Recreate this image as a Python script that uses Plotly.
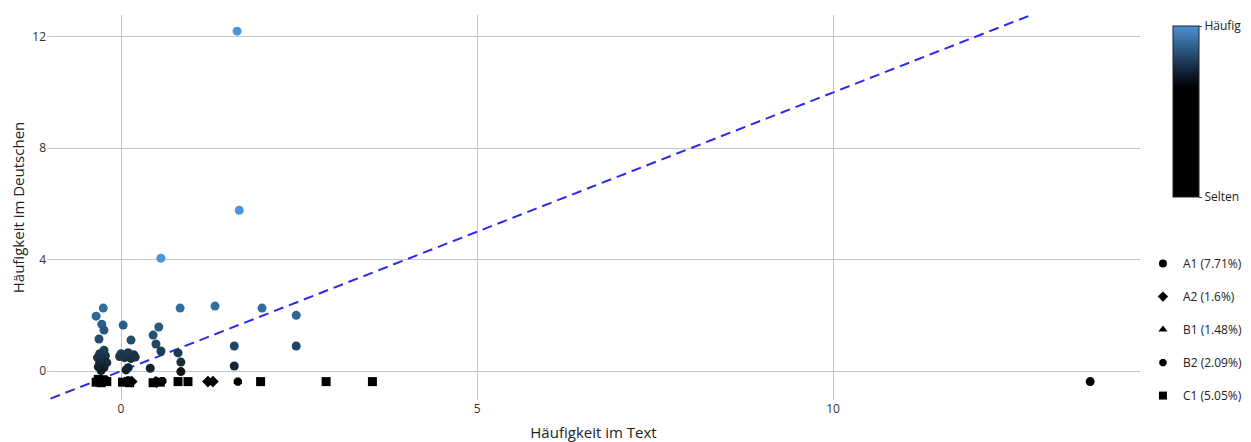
import plotly.graph_objects as go

# Coloured points (level A1), x = Häufigkeit im Text, y = Häufigkeit im Deutschen
a1_x = [1.63, 1.66, 0.56, -0.25, -0.35, -0.27, -0.24, -0.31, -0.24,
        -0.30, -0.22, -0.33, -0.26, -0.30, -0.20, -0.32, -0.24, -0.28,
        0.03, 0.14, 0.00, 0.10, 0.18, 0.05, 0.14, 0.20, -0.02, 0.07, 0.10,
        0.45, 0.53, 0.49, 0.56, 0.41, 0.80, 0.84, 0.84,
        0.83, 1.32, 1.98, 2.46, 1.59, 1.59, 2.46, 13.61]
a1_y = [12.20, 5.77, 4.05, 2.26, 1.97, 1.68, 1.47, 1.15, 0.75,
        0.62, 0.55, 0.48, 0.43, 0.30, 0.30, 0.15, 0.12, 0.02,
        1.65, 1.11, 0.62, 0.66, 0.58, 0.48, 0.45, 0.50, 0.52, 0.04, 0.12,
        1.29, 1.58, 0.97, 0.72, 0.10, 0.65, 0.32, -0.02,
        2.26, 2.33, 2.26, 2.00, 0.90, 0.18, 0.90, -0.38]

a2_x = [1.22, 1.29, 0.15, -0.25, 0.50]
a2_y = [-0.38, -0.38, -0.38, -0.36, -0.40]

b1_x = [-0.30, 0.05, 0.48]
b1_y = [-0.33, -0.36, -0.34]

b2_x = [1.64, -0.22, 0.10, 0.58]
b2_y = [-0.38, -0.30, -0.34, -0.36]

c1_x = [-0.35, -0.28, -0.20, -0.32, 0.02, 0.12, 0.45, 0.55, 0.80, 0.94, 1.96, 2.88, 3.53]
c1_y = [-0.40, -0.42, -0.38, -0.30, -0.40, -0.42, -0.42, -0.40, -0.38, -0.38, -0.38, -0.38, -0.38]

levels = ["A1 (7.71%)", "A2 (1.6%)", "B1 (1.48%)", "B2 (2.09%)", "C1 (5.05%)"]
symbols = ["circle", "diamond", "triangle-up", "octagon", "square"]

diag = [-1.2, 14.5]

x_ticks = [0, 5, 10]
y_ticks = [0, 4, 8, 12]
cbar_labels = ["Selten", "Häufig"]

point_scale = [[0, "#000000"], [0.06, "#000000"], [0.1, "#10202c"], [0.2, "#1a3447"],
               [0.35, "#234e6e"], [0.6, "#326e9c"], [1, "#4a96d8"]]
bar_scale = [[0, "#000000"], [0.64, "#000000"], [0.8, "#1d3d5c"], [1, "#4a92d4"]]

fig = go.Figure()

fig.add_trace(go.Scatter(x=diag, y=diag, mode="lines", showlegend=False, hoverinfo="skip",
                         line=dict(color="#2a2af0", width=2, dash="10px,6px")))

series = [(a1_x, a1_y), (a2_x, a2_y), (b1_x, b1_y), (b2_x, b2_y), (c1_x, c1_y)]
for (xs, ys), name, sym in zip(series, levels, symbols):
    fig.add_trace(go.Scatter(x=xs, y=ys, mode="markers", showlegend=False, name=name,
                             marker=dict(symbol=sym, size=9, color=ys, colorscale=point_scale,
                                         cmin=-0.4, cmax=4, line=dict(width=0))))

for i, (name, sym) in enumerate(zip(levels, symbols)):
    fig.add_trace(go.Scatter(x=[None], y=[None], mode="markers", name=name, legendgroup=str(i),
                             marker=dict(symbol=sym, size=8, color="black")))

fig.add_trace(go.Scatter(x=[None], y=[None], mode="markers", showlegend=False,
                         marker=dict(color=[0], cmin=0, cmax=1, colorscale=bar_scale, showscale=True,
                                     colorbar=dict(x=1.030, xanchor="left", y=0.971, yanchor="top",
                                                   len=171, lenmode="pixels", thickness=26,
                                                   xpad=0, ypad=0,
                                                   outlinewidth=1, outlinecolor="#222",
                                                   tickvals=[0, 1], ticktext=cbar_labels,
                                                   ticks="outside", ticklen=3, tickcolor="#444",
                                                   tickfont=dict(size=12, color="#222")))))

fig.update_layout(
    width=1243, height=434,
    margin=dict(l=39, r=111, t=7, b=42, autoexpand=False),
    paper_bgcolor="white", plot_bgcolor="white",
    font=dict(family="Open Sans", size=12, color="#333"),
    legend=dict(x=1.0027, xanchor="left", y=0.392, yanchor="top", tracegroupgap=14,
                font=dict(size=12, color="#222"), bgcolor="rgba(0,0,0,0)"),
    xaxis=dict(range=[-1.04, 14.31], tickvals=x_ticks, showgrid=True, gridcolor="#c4c4c4",
               zeroline=False, showline=False, ticks="", automargin=False,
               title=dict(text="Häufigkeit im Text", font=dict(size=15, color="#222"), standoff=12)),
    yaxis=dict(range=[-1.04, 12.78], tickvals=y_ticks, showgrid=True, gridcolor="#c4c4c4",
               zeroline=False, showline=False, ticks="", automargin=False,
               title=dict(text="Häufigkeit im Deutschen", font=dict(size=15, color="#222"), standoff=8)),
)

fig.write_html("out.html")
